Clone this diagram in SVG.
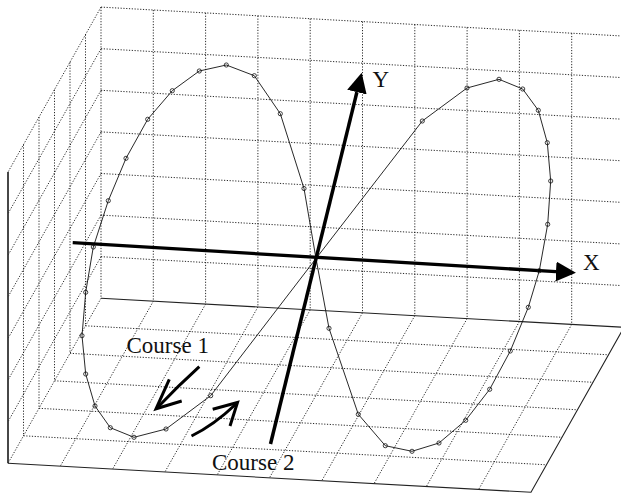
<svg xmlns="http://www.w3.org/2000/svg" width="621" height="497" viewBox="0 0 621 497">
<defs>
<style>
.grid{stroke:#111;stroke-width:0.9;stroke-dasharray:1.2 1.6;fill:none}
.edge{stroke:#222;stroke-width:1.1;fill:none}
.edgeL{stroke:#333;stroke-width:1.8;fill:none}
.curve{stroke:#111;stroke-width:0.9;fill:none}
.pt{stroke:#111;stroke-width:0.8;fill:none}
.axis{stroke:#000;stroke-width:3.3;fill:none}
.course{stroke:#000;stroke-width:3;fill:none;stroke-linejoin:miter;stroke-linecap:butt}
.lbl{font-family:"Liberation Serif","Times New Roman",serif;font-size:23px;fill:#111}
</style>
<marker id="ah" viewBox="0 0 20 20" refX="0" refY="10" markerWidth="20" markerHeight="20" markerUnits="userSpaceOnUse" orient="auto">
<path d="M0,0 L20,10 L0,20 z" fill="#000"/>
</marker>
<circle id="m" r="2.1" class="pt"/>
</defs>
<rect width="621" height="497" fill="#fff"/>
<g id="grid-backwall">
<path class="grid" d="M101,7.1V298.3M153.3,10V301.2M205.6,12.9V304.1M257.9,15.8V307M310.2,18.7V309.9M362.5,21.6V312.8M414.8,24.5V315.7M467.1,27.4V318.6M519.4,30.3V321.5M571.7,33.2V324.4"/>
<path class="grid" d="M101,256.7L624,285.7M101,215.1L624,244.1M101,173.5L624,202.5M101,131.9L624,160.9M101,90.3L624,119.3M101,48.7L624,77.7M101,7.1L624,36.1"/>
</g>
<g id="grid-leftwall">
<path class="grid" d="M85.5,34.6V325.8M70,62.1V353.3M54.5,89.6V380.8M39,117.1V408.3M23.5,144.6V435.8"/>
<path class="grid" d="M101,298.3L8,463.3M101,256.7L8,421.7M101,215.1L8,380.1M101,173.5L8,338.5M101,131.9L8,296.9M101,90.3L8,255.3M101,48.7L8,213.7M101,7.1L8,172.1"/>
<path class="edgeL" d="M8,172.1V463.3"/>
</g>
<g id="grid-floor">
<path class="grid" d="M153.3,301.2L60.3,466.2M205.6,304.1L112.6,469.1M257.9,307L164.9,472M310.2,309.9L217.2,474.9M362.5,312.8L269.5,477.8M414.8,315.7L321.8,480.7M467.1,318.6L374.1,483.6M519.4,321.5L426.4,486.5M571.7,324.4L478.7,489.4"/>
<path class="grid" d="M85.5,325.8L608.5,354.8M70,353.3L593,382.3M54.5,380.8L577.5,409.8M39,408.3L562,437.3M23.5,435.8L546.5,464.8"/>
<path class="edge" d="M101,298.3L624,327.3M8,463.3L531,492.3L624,327.3"/>
</g>
<g id="connectors">
<polyline id="course-path" class="curve" points="316,258.5 210.7,395.7 166,429 134,437.3 110.3,427.7 95,406 85.7,374 82,335.7 85.7,292.3 93.3,247 108.3,200.7 126,158.3 147.7,119.3 172.3,90.7 199.3,71 226.3,65 254.3,75.7 280.3,113.7 304,188.5 316,258.5 329,328.3 358.3,414.3 385.3,445.7 412,451.3 439,443 465.7,420.3 489.7,389.3 510.3,351 528.3,307.3 539.3,270.7 547.7,224.3 550.7,181 547.3,142.7 538.3,110.3 522.7,89 499,79.3 467,88 422.3,121 316,258.5"/>
<line id="x-axis" class="axis" x1="72.7" y1="242.7" x2="556" y2="271.6" marker-end="url(#ah)"/>
<line id="y-axis" class="axis" x1="270.5" y1="444" x2="356.9" y2="92.1" marker-end="url(#ah)" style="stroke-width:3.5"/>
<g id="course1-arrow">
<path class="course" d="M199.3,366.7Q178,386 157.5,407.5"/>
<path class="course" d="M169.3,379.3L156,408.8L181.7,401"/>
</g>
<g id="course2-arrow">
<path class="course" d="M191.5,436Q214,425 236,404"/>
<path class="course" d="M212.7,409.3L237.5,402.5L230,426"/>
</g>
</g>
<g id="points">
<use href="#m" x="210.7" y="395.7"/><use href="#m" x="166" y="429"/><use href="#m" x="134" y="437.3"/><use href="#m" x="110.3" y="427.7"/><use href="#m" x="95" y="406"/><use href="#m" x="85.7" y="374"/><use href="#m" x="82" y="335.7"/><use href="#m" x="85.7" y="292.3"/><use href="#m" x="93.3" y="247"/><use href="#m" x="108.3" y="200.7"/><use href="#m" x="126" y="158.3"/><use href="#m" x="147.7" y="119.3"/><use href="#m" x="172.3" y="90.7"/><use href="#m" x="199.3" y="71"/><use href="#m" x="226.3" y="65"/><use href="#m" x="254.3" y="75.7"/><use href="#m" x="280.3" y="113.7"/><use href="#m" x="304" y="188.5"/>
<use href="#m" x="329" y="328.3"/><use href="#m" x="358.3" y="414.3"/><use href="#m" x="385.3" y="445.7"/><use href="#m" x="412" y="451.3"/><use href="#m" x="439" y="443"/><use href="#m" x="465.7" y="420.3"/><use href="#m" x="489.7" y="389.3"/><use href="#m" x="510.3" y="351"/><use href="#m" x="528.3" y="307.3"/><use href="#m" x="539.3" y="270.7"/><use href="#m" x="547.7" y="224.3"/><use href="#m" x="550.7" y="181"/><use href="#m" x="547.3" y="142.7"/><use href="#m" x="538.3" y="110.3"/><use href="#m" x="522.7" y="89"/><use href="#m" x="499" y="79.3"/><use href="#m" x="467" y="88"/><use href="#m" x="422.3" y="121"/>
</g>
<g id="labels">
<text id="label-x" class="lbl" x="583" y="270">X</text>
<text id="label-y" class="lbl" x="372.5" y="87.3">Y</text>
<text id="label-course1" class="lbl" x="126.5" y="353.3">Course 1</text>
<text id="label-course2" class="lbl" x="212" y="470">Course 2</text>
</g>
</svg>
